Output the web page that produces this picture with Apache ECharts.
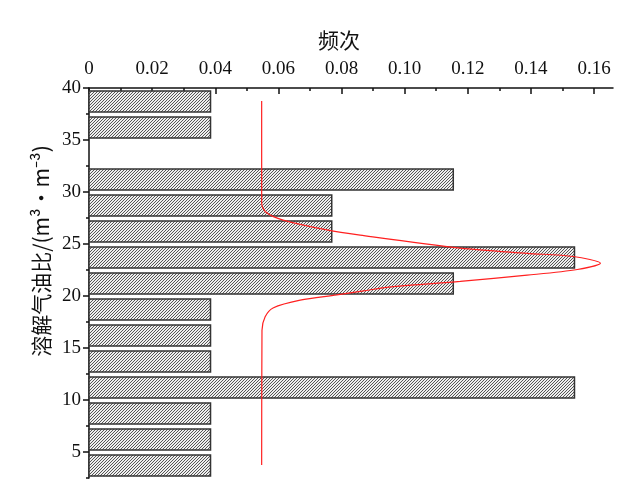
<!DOCTYPE html>
<html>
<head>
<meta charset="utf-8">
<script src="https://cdn.jsdelivr.net/npm/echarts@6/dist/echarts.min.js"></script>
<style>
  html, body { margin: 0; background: #fff; }
  #chart { width: 622px; height: 496px; }
</style>
</head>
<body>
<div id="chart"></div>
<script>
// histogram bins of 溶解气油比 (m3/m3) and their frequency
const binLow = [2.5, 5, 7.5, 10, 12.5, 15, 17.5, 20, 22.5, 25, 27.5, 30, 32.5, 35, 37.5]
const binHigh = [5, 7.5, 10, 12.5, 15, 17.5, 20, 22.5, 25, 27.5, 30, 32.5, 35, 37.5, 40]
const freq = [0.0385, 0.0385, 0.0385, 0.1538, 0.0385, 0.0385, 0.0385, 0.1154, 0.1538, 0.0769, 0.0769, 0.1154, 0, 0.0385, 0.0385]

// fitted curve (top to bottom)
const curveY = [38.75, 28.9, 28.0, 27.3, 26.35, 25.85, 24.6, 24.1, 23.8, 23.15, 22.55, 22.0, 21.4, 20.9, 20.5, 20.1, 19.6, 18.85, 18.0, 16.7, 3.75]
const curveX = [0.0547, 0.0547, 0.0563, 0.0615, 0.0754, 0.0859, 0.1176, 0.1388, 0.1534, 0.1620, 0.1547, 0.1388, 0.1176, 0.0964, 0.0870, 0.0785, 0.0669, 0.0583, 0.0558, 0.0548, 0.0547]

const xTicks = [0, 0.02, 0.04, 0.06, 0.08, 0.10, 0.12, 0.14, 0.16]
const xMinorTicks = [0.01, 0.03, 0.05, 0.07, 0.09, 0.11, 0.13, 0.15]
const yTicks = [5, 10, 15, 20, 25, 30, 35, 40]
const yMinorTicks = [2.5, 7.5, 12.5, 17.5, 22.5, 27.5, 32.5, 37.5]

const numFont = '"Liberation Serif", "DejaVu Serif", serif'
const cjkFont = '"Noto Sans CJK SC", "Liberation Serif", sans-serif'

// diagonal hatch fill like the original bars
function makeHatch() {
  const n = 3
  const c = document.createElement('canvas')
  c.width = n
  c.height = n
  const g = c.getContext('2d')
  g.fillStyle = '#eeeeee'
  g.fillRect(0, 0, n, n)
  g.strokeStyle = '#555555'
  g.lineWidth = 1
  g.beginPath()
  g.moveTo(0, n); g.lineTo(n, 0)
  g.moveTo(-1, 1); g.lineTo(1, -1)
  g.moveTo(n - 1, n + 1); g.lineTo(n + 1, n - 1)
  g.stroke()
  return c
}
const hatch = makeHatch()

const chart = echarts.init(document.getElementById('chart'))

const xBase = { type: 'value', position: 'top', min: 0, max: 0.166, splitLine: { show: false } }
const yBase = { type: 'value', position: 'left', min: 2.5, max: 40, splitLine: { show: false } }

chart.setOption({
  animation: false,
  title: {
    text: '频次',
    left: 318,
    top: 30,
    padding: 0,
    textStyle: { fontFamily: cjkFont, fontSize: 21, fontWeight: 'normal', color: '#111' },
  },
  grid: { left: 89, right: 9, top: 88, bottom: 18 },
  xAxis: [
    {
      ...xBase,
      axisLine: { show: true, lineStyle: { color: '#111', width: 1.5 } },
      axisTick: { show: true, inside: true, length: 6, customValues: xTicks, lineStyle: { color: '#111', width: 1.5 } },
      axisLabel: {
        customValues: xTicks,
        margin: 9,
        color: '#111',
        fontFamily: numFont,
        fontSize: 19,
        formatter: v => (v === 0 ? '0' : v.toFixed(2)),
      },
    },
    {
      ...xBase,
      axisLine: { show: false },
      axisTick: { show: true, inside: true, length: 3, customValues: xMinorTicks, lineStyle: { color: '#111', width: 1.5 } },
      axisLabel: { show: false },
    },
  ],
  yAxis: [
    {
      ...yBase,
      axisLine: { show: true, lineStyle: { color: '#111', width: 1.5 } },
      axisTick: { show: true, length: 6, customValues: yTicks, lineStyle: { color: '#111', width: 1.5 } },
      axisLabel: {
        customValues: yTicks,
        margin: 8,
        color: '#111',
        fontFamily: numFont,
        fontSize: 19,
      },
    },
    {
      ...yBase,
      axisLine: { show: false },
      axisTick: { show: true, length: 3, customValues: yMinorTicks, lineStyle: { color: '#111', width: 1.5 } },
      axisLabel: { show: false },
    },
  ],
  graphic: [
    {
      type: 'text',
      x: 41,
      y: 251,
      rotation: Math.PI / 2,
      style: {
        text: '溶解气油比/(m³•m⁻³)',
        font: '21px ' + cjkFont,
        fill: '#111',
        textAlign: 'center',
        textVerticalAlign: 'middle',
      },
    },
  ],
  series: [
    {
      type: 'custom',
      xAxisIndex: 0,
      yAxisIndex: 0,
      encode: { x: 2, y: [0, 1] },
      data: binLow.map((lo, i) => [lo, binHigh[i], freq[i]]),
      renderItem(params, api) {
        const lo = api.value(0)
        const hi = api.value(1)
        const v = api.value(2)
        if (!v) return
        const p0 = api.coord([0, hi - 0.3])
        const p1 = api.coord([v, lo + 0.2])
        return {
          type: 'rect',
          shape: { x: p0[0], y: p0[1], width: p1[0] - p0[0], height: p1[1] - p0[1] },
          style: { fill: { image: hatch, repeat: 'repeat' }, stroke: '#333', lineWidth: 1.5 },
        }
      },
      z: 2,
    },
    {
      type: 'line',
      xAxisIndex: 0,
      yAxisIndex: 0,
      data: curveX.map((x, i) => [x, curveY[i]]),
      showSymbol: false,
      smooth: 0.3,
      lineStyle: { color: '#ff2020', width: 1.2 },
      z: 3,
    },
  ],
})
</script>
</body>
</html>
